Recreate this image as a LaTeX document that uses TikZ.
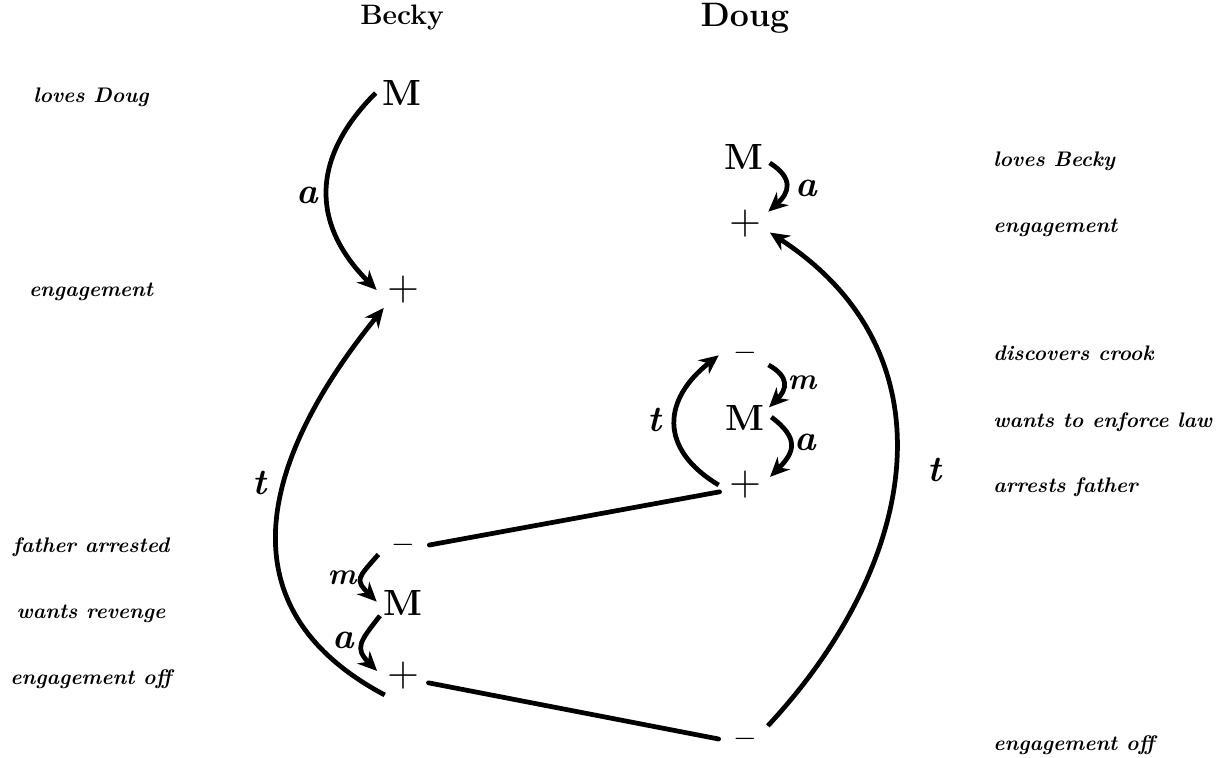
\documentclass[tikz,border=0pt]{standalone}
\usepackage{xcolor}
\usetikzlibrary{arrows.meta, positioning, calc}
\begin{document}
\begin{tikzpicture}[x=0.2mm, y=0.2mm,
    sym/.style={circle, minimum size=10.4mm, inner sep=0pt, font=\huge\bfseries},
    side/.style={font=\large\bfseries\itshape, inner sep=0pt},
    hand/.style={font=\huge\bfseries\itshape, inner sep=0pt},
    arr/.style={line width=2.7pt, -{Stealth[length=11pt, width=10pt]}},
    wire/.style={line width=2.7pt, line cap=round}]
    \useasboundingbox (0,0) rectangle (1224,-757);
    \node[font=\fontsize{16}{19}\selectfont\bfseries] (becky) at (402,-18) {Becky};
    \node[font=\fontsize{19.3}{23}\selectfont\bfseries] (doug) at (745,-18) {Doug};

    \node[side] (lDoug) at (91,-97) {loves Doug};
    \node[side] (lEng) at (91,-292) {engagement};
    \node[side] (lArr) at (91,-547) {father arrested};
    \node[side] (lRev) at (91,-614) {wants revenge};
    \node[side] (lOff) at (91,-679) {engagement off};

    \node[side, anchor=west] (rBecky) at (993,-161) {loves Becky};
    \node[side, anchor=west] (rEng) at (993,-228) {engagement};
    \node[side, anchor=west] (rCrook) at (993,-353) {discovers crook};
    \node[side, anchor=west] (rLaw) at (993,-422) {wants to enforce law};
    \node[side, anchor=west] (rArr) at (993,-487) {arrests father};
    \node[side, anchor=west] (rOff) at (993,-745) {engagement off};

    \node[sym] (bM1) at (402,-93) {M};
    \node[sym, font=\Huge] (bP1) at (403,-290) {$+$};
    \node[sym, font=\LARGE] (bN) at (403,-545) {$-$};
    \node[sym] (bM2) at (403,-603) {M};
    \node[sym, font=\Huge] (bP2) at (403,-676) {$+$};

    \node[sym] (dM1) at (744,-157) {M};
    \node[sym, font=\Huge] (dP1) at (745,-224) {$+$};
    \node[sym, font=\LARGE] (dN1) at (745,-353) {$-$};
    \node[sym] (dM2) at (745,-418) {M};
    \node[sym, font=\Huge] (dP2) at (745,-485) {$+$};
    \node[sym, font=\LARGE] (dN2) at (745,-739) {$-$};

    \draw[arr] (bM1.180) to[out=225, in=135, looseness=1.2] (bP1.180);
    \draw[arr] (bP2.226) to[out=152, in=231, looseness=1.25] (bP1.223);
    \draw[arr] (bN.201) to[out=229, in=135, looseness=1.7] (bM2.177);
    \draw[arr] (bM2.209) to[out=232, in=135, looseness=1.5] (bP2.169);

    \draw[arr] (dM1.347) to[out=328, in=42, looseness=1.5] (dP1.28);
    \draw[arr] (dN2.30) to[out=47, in=327, looseness=1.15] (dP1.341);
    \draw[arr] (dN1.333) to[out=331, in=45, looseness=1.5] (dM2.24);
    \draw[arr] (dM2.2) to[out=323, in=45, looseness=1.5] (dP2.18);
    \draw[arr] (dP2.180) to[out=149, in=218, looseness=1.4] (dN1.185);

    \draw[wire] (bN.east) -- (dP2.195);
    \draw[wire] (bP2.345) -- (dN2.west);

    \node[hand] (aB1) at (307,-195) {a};
    \node[hand] (tB) at (260,-483) {t};
    \node[hand, font=\LARGE\bfseries\itshape] (mB) at (342,-578) {m};
    \node[hand] (aB2) at (343,-640) {a};
    \node[hand] (aD1) at (806,-188) {a};
    \node[hand, font=\LARGE\bfseries\itshape] (mD) at (802,-383) {m};
    \node[hand] (aD2) at (805,-442) {a};
    \node[hand] (tD1) at (655,-420) {t};
    \node[hand] (tD2) at (935,-470) {t};
\end{tikzpicture}
\end{document}
